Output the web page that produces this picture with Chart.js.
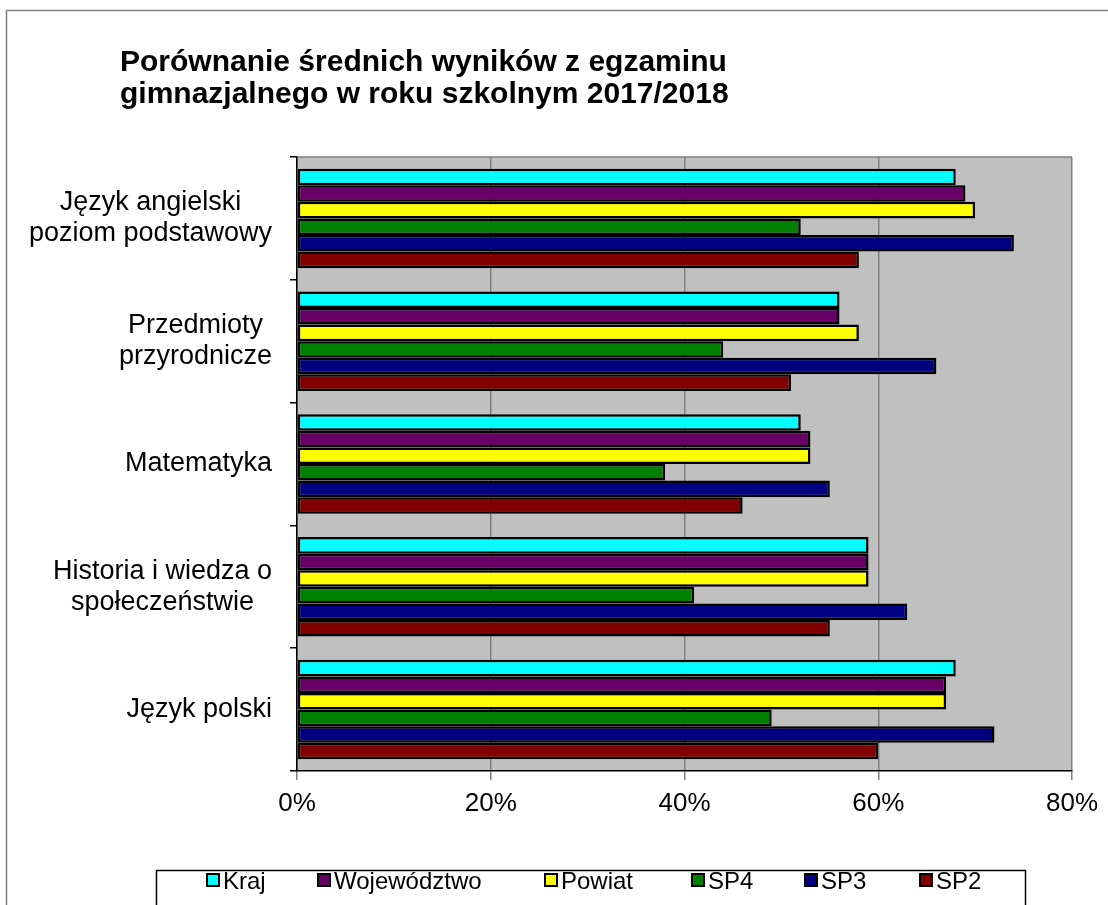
<!DOCTYPE html>
<html lang="pl">
<head>
<meta charset="utf-8">
<title>Porównanie średnich wyników</title>
<script src="https://cdn.jsdelivr.net/npm/chart.js@4.4.1/dist/chart.umd.min.js"></script>
<style>
    html, body { margin: 0; padding: 0; background: #fff; }
    #wrap { position: relative; width: 1108px; height: 905px; }
</style>
</head>
<body>
<div id="wrap"><canvas id="chart"></canvas></div>
<script>
// dane wykresu
const titleLines = ['Porównanie średnich wyników z egzaminu', 'gimnazjalnego w roku szkolnym 2017/2018'];
const subjects = [
    ['Język angielski', 'poziom podstawowy'],
    ['Przedmioty', 'przyrodnicze'],
    ['Matematyka'],
    ['Historia i wiedza o', 'społeczeństwie'],
    ['Język polski']
];
const seriesNames = ['Kraj', 'Województwo', 'Powiat', 'SP4', 'SP3', 'SP2'];
const seriesColors = ['#00FFFF', '#660066', '#FFFF00', '#008000', '#000080', '#800000'];

const kraj        = [68, 56, 52, 59, 68];
const wojewodztwo = [69, 56, 53, 59, 67];
const powiat      = [70, 58, 53, 59, 67];
const sp4         = [52, 44, 38, 41, 49];
const sp3         = [74, 66, 55, 63, 72];
const sp2         = [58, 51, 46, 55, 60];
const seriesValues = [kraj, wojewodztwo, powiat, sp4, sp3, sp2];

const xTicks = [0, 20, 40, 60, 80];

const FONT = '"Liberation Sans", Arial, sans-serif';

// tło obszaru wykresu, ramka i tytuł
const framePlugin = {
    id: 'frame',
    beforeDraw(chart) {
        const ctx = chart.ctx;
        const a = chart.chartArea;
        ctx.save();
        // ramka całego wykresu
        ctx.strokeStyle = '#808080';
        ctx.lineWidth = 1.5;
        ctx.strokeRect(6.5, 10.5, 1200, 1000);
        // szare tło
        ctx.fillStyle = '#C0C0C0';
        ctx.fillRect(a.left, a.top, a.right - a.left, a.bottom - a.top);
        ctx.strokeStyle = '#808080';
        ctx.lineWidth = 1.5;
        ctx.beginPath();
        ctx.moveTo(a.left, a.top);
        ctx.lineTo(a.right, a.top);
        ctx.stroke();
        // tytuł
        ctx.fillStyle = '#000';
        ctx.font = 'bold 30px ' + FONT;
        ctx.textAlign = 'left';
        ctx.textBaseline = 'middle';
        ctx.fillText(titleLines[0], 120, 63);
        ctx.fillText(titleLines[1], 120, 95);
        ctx.restore();
    }
};

// etykiety kategorii (wyrównane do prawej, wiersze wyśrodkowane) i legenda
const legendX = [207, 318, 545, 692, 805, 920];
const labelsPlugin = {
    id: 'labels',
    afterDraw(chart) {
        const ctx = chart.ctx;
        const y = chart.scales.y;
        ctx.save();
        ctx.fillStyle = '#000';
        ctx.font = '27px ' + FONT;
        ctx.textAlign = 'center';
        ctx.textBaseline = 'middle';
        const lh = 31;
        subjects.forEach(function(lines, i) {
            const cy = y.getPixelForValue(i);
            const w = Math.max.apply(null, lines.map(function(l) { return ctx.measureText(l).width; }));
            const cx = 272 - w / 2;
            lines.forEach(function(l, j) {
                ctx.fillText(l, cx, cy + (j - (lines.length - 1) / 2) * lh);
            });
        });

        // legenda
        ctx.strokeStyle = '#000';
        ctx.lineWidth = 1.5;
        ctx.strokeRect(156.5, 870.5, 869, 80);
        ctx.font = '24px ' + FONT;
        ctx.textAlign = 'left';
        chart.data.datasets.forEach(function(ds, i) {
            const x = legendX[i];
            ctx.fillStyle = ds.backgroundColor;
            ctx.fillRect(x, 874, 12, 12);
            ctx.strokeStyle = '#000';
            ctx.lineWidth = 2;
            ctx.strokeRect(x, 874, 12, 12);
            ctx.fillStyle = '#000';
            ctx.fillText(ds.label, x + 16, 882);
        });
        ctx.restore();
    }
};

const datasets = seriesNames.map(function(name, i) {
    return {
        label: name,
        data: seriesValues[i],
        backgroundColor: seriesColors[i],
        borderColor: '#000',
        borderWidth: 2.5,
        borderSkipped: false,
        categoryPercentage: 0.81,
        barPercentage: 1.0
    };
});

new Chart(document.getElementById('chart'), {
    type: 'bar',
    data: {
        labels: subjects.map(function(s) { return s.join(' '); }),
        datasets: datasets
    },
    options: {
        indexAxis: 'y',
        responsive: true,
        maintainAspectRatio: false,
        animation: false,
        layout: {
            padding: { top: 157, right: 36, bottom: 74, left: 0 }
        },
        plugins: {
            legend: { display: false },
            title: { display: false },
            tooltip: { enabled: false }
        },
        scales: {
            x: {
                min: 0,
                max: 80,
                afterBuildTicks: function(scale) {
                    scale.ticks = xTicks.map(function(v) { return { value: v }; });
                },
                afterFit: function(scale) { scale.height = 60; },
                grid: {
                    color: '#808080',
                    lineWidth: 1.5,
                    tickLength: 9
                },
                border: { color: '#000', width: 1.5 },
                ticks: {
                    padding: 8,
                    color: '#000',
                    font: { family: FONT, size: 26 },
                    callback: function(value) { return value + '%'; }
                }
            },
            y: {
                afterFit: function(scale) { scale.width = 297; },
                grid: {
                    drawOnChartArea: false,
                    color: '#000',
                    lineWidth: 1.5,
                    tickLength: 7
                },
                border: { color: '#000', width: 1.5 },
                ticks: { display: false }
            }
        }
    },
    plugins: [framePlugin, labelsPlugin]
});
</script>
</body>
</html>
